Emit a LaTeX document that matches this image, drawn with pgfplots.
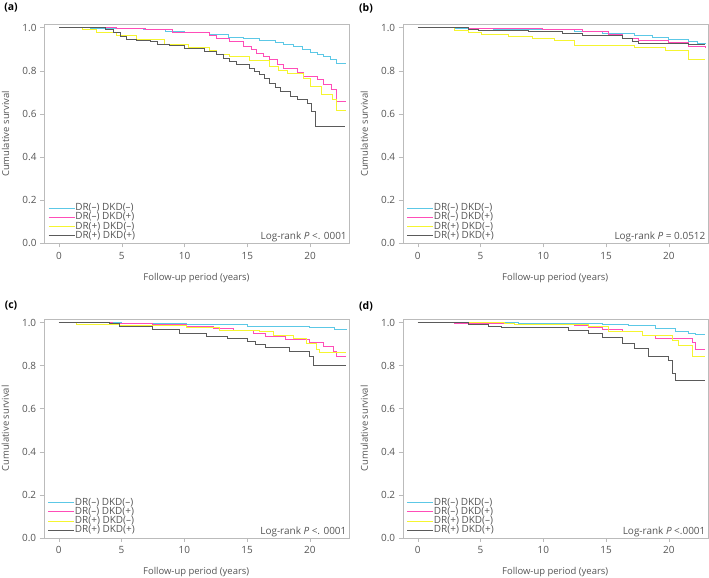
\documentclass[border=0pt]{standalone}
\usepackage{pgfplots}
\pgfplotsset{compat=1.18}
\usepackage{fontspec}
\setmainfont{Open Sans}
\definecolor{cA}{HTML}{5CC8E6}
\definecolor{cB}{HTML}{FF4DB8}
\definecolor{cC}{HTML}{F5F530}
\definecolor{cD}{HTML}{5A5A5A}
\definecolor{txt}{HTML}{555555}
\definecolor{frm}{HTML}{BBBBBB}
\newcommand{\fs}{\fontsize{10}{12}\selectfont}
\newcommand{\fl}{\fontsize{9.5}{11}\selectfont}
\pgfplotsset{km/.style={
 scale only axis, width=305bp,
 xmin=-1.2, xmax=23.1, ymin=0, ymax=1.015,
 xtick={0,5,10,15,20}, ytick={0,0.2,0.4,0.6,0.8,1.0},
 yticklabel style={/pgf/number format/.cd,fixed,fixed zerofill,precision=1},
 xticklabel style={yshift=-1.5bp},
 /pgf/number format/assume math mode=true,
 tick align=outside, tick pos=left, major tick length=4bp,
 axis line style={frm}, tick style={draw=frm},
 tick label style={font=\fs, text=txt},
 label style={font=\fl, text=txt},
 xlabel={Follow-up period (years)}, ylabel={Cumulative survival},
 xlabel style={at={(axis description cs:0.5,-0.158)},anchor=center},
 ylabel style={at={(axis description cs:-0.126,0.5)},anchor=center},
 legend style={at={(axis description cs:0.013,0.012)},anchor=south west,draw=none,fill=none,font=\fs,text=txt,row sep=0pt,inner sep=0pt,
   nodes={text height=7bp, text depth=2.2bp, inner sep=0pt},
   /tikz/every even column/.append style={column sep=4bp}},
 legend cell align=left,
 legend image code/.code={\draw[#1,line width=1.1bp] (0bp,0bp) -- (26bp,0bp);},
 every axis plot/.append style={const plot, line width=0.9bp},
}}
\newcommand{\lr}[1]{\node[anchor=base east,font=\fs,text=txt,inner sep=0pt] at (axis description cs:0.993,0.016) {#1};}
\begin{document}
\begin{tikzpicture}
\path[use as bounding box] (0,0) rectangle (709bp,578bp);
\node[font=\bfseries\fontsize{10.5}{12}\selectfont] at (11bp,570bp) {(a)};
\node[font=\bfseries\fontsize{10.5}{12}\selectfont] at (366bp,570bp) {(b)};
\node[font=\bfseries\fontsize{10.5}{12}\selectfont] at (11bp,272bp) {(c)};
\node[font=\bfseries\fontsize{10.5}{12}\selectfont] at (366bp,272bp) {(d)};
% (a)
\begin{axis}[km, height=219bp, at={(44bp,334.7bp)}, anchor=south west]
\addplot[cA] coordinates {(0,1) (2.5,0.997) (4.5,0.994) (6.7,0.989) (8.5,0.982) (10,0.976) (12,0.966) (13.5,0.955) (14.7,0.948) (16,0.938) (17.2,0.93) (17.9,0.923) (18.7,0.912) (19.4,0.9) (20,0.886) (20.6,0.876) (21.1,0.866) (21.6,0.853) (22.1,0.835) (22.9,0.835)};
\addplot[cB] coordinates {(0,1) (4.6,0.997) (6.9,0.989) (9,0.978) (12,0.963) (12.5,0.951) (13.6,0.935) (14.7,0.912) (15.3,0.897) (15.7,0.881) (16.3,0.867) (16.8,0.85) (17.4,0.83) (17.9,0.812) (19,0.792) (19.5,0.773) (20.6,0.758) (21.1,0.734) (21.7,0.711) (22.1,0.657) (22.9,0.657)};
\addplot[cC] coordinates {(0,1) (1.9,0.992) (3.0,0.977) (4.6,0.961) (6.2,0.943) (8.4,0.923) (10.3,0.907) (12,0.896) (12.5,0.877) (13.6,0.866) (15.2,0.847) (16.8,0.82) (17.5,0.8) (18.2,0.785) (19.5,0.765) (20,0.729) (20.9,0.688) (21.8,0.665) (22.1,0.618) (22.9,0.618)};
\addplot[cD] coordinates {(0,1) (3.7,0.993) (4.3,0.977) (4.9,0.958) (5.4,0.946) (6.2,0.94) (7.3,0.935) (7.8,0.923) (8.8,0.915) (10,0.904) (11.6,0.889) (12.5,0.873) (13.1,0.858) (13.6,0.843) (14.1,0.827) (15.2,0.812) (15.6,0.797) (16,0.781) (16.4,0.762) (16.8,0.742) (17.2,0.722) (17.6,0.703) (18.4,0.68) (19,0.668) (19.8,0.649) (20.1,0.611) (20.4,0.541) (22.8,0.541)};
\legend{DR(–) DKD(–),DR(–) DKD(+),DR(+) DKD(–),DR(+) DKD(+)}
\lr{Log-rank \textit{P} <. 0001}
\end{axis}
% (b)
\begin{axis}[km, height=219bp, at={(402.7bp,334.7bp)}, anchor=south west]
\addplot[cA] coordinates {(0,1) (2.9,0.997) (6,0.993) (9.9,0.989) (12.5,0.982) (14.7,0.974) (17.3,0.961) (18.7,0.953) (20,0.946) (21.6,0.935) (22.3,0.928) (22.9,0.924)};
\addplot[cB] coordinates {(0,1) (4,0.997) (7.7,0.995) (9.9,0.989) (13.1,0.981) (15.2,0.966) (16.3,0.951) (17.6,0.94) (20,0.93) (21.6,0.912) (22.9,0.907)};
\addplot[cC] coordinates {(0,1) (2.9,0.986) (4,0.977) (5.1,0.966) (7.2,0.958) (9.1,0.951) (10.9,0.94) (12.5,0.915) (17.3,0.909) (19.7,0.893) (21.6,0.853) (22.9,0.853)};
\addplot[cD] coordinates {(0,1) (4,0.992) (4.8,0.986) (8.8,0.981) (11.5,0.974) (13.1,0.961) (16.3,0.951) (17.1,0.935) (17.6,0.924) (21.6,0.92) (22.9,0.92)};
\legend{DR(–) DKD(–),DR(–) DKD(+),DR(+) DKD(–),DR(+) DKD(+)}
\lr{Log-rank \textit{P} = 0.0512}
\end{axis}
% (c)
\begin{axis}[km, height=218.4bp, at={(43.7bp,40.3bp)}, anchor=south west]
\addplot[cA] coordinates {(0,1) (5,0.997) (10.2,0.992) (15,0.983) (20,0.977) (22,0.969) (22.9,0.967)};
\addplot[cB] coordinates {(0,1) (4.3,0.997) (7.5,0.991) (10.2,0.983) (12.3,0.972) (13.9,0.961) (15.5,0.949) (16.5,0.937) (18.1,0.921) (20,0.906) (21.1,0.887) (21.9,0.864) (22.1,0.841) (22.9,0.841)};
\addplot[cC] coordinates {(0,1) (1.4,0.991) (4.8,0.985) (10.2,0.975) (12.8,0.964) (16,0.957) (17.1,0.941) (18.7,0.926) (19.7,0.902) (20.5,0.875) (20.8,0.861) (22.9,0.861)};
\addplot[cD] coordinates {(0,1) (4,0.995) (4.8,0.98) (7.5,0.967) (9.6,0.949) (11.8,0.937) (13.4,0.926) (15,0.91) (15.7,0.899) (16.5,0.884) (18.4,0.867) (20,0.841) (20.3,0.802) (22.9,0.802)};
\legend{DR(–) DKD(–),DR(–) DKD(+),DR(+) DKD(–),DR(+) DKD(+)}
\lr{Log-rank \textit{P} <. 0001}
\end{axis}
% (d)
\begin{axis}[km, height=218.4bp, at={(402.7bp,40.3bp)}, anchor=south west]
\addplot[cA] coordinates {(0,1) (8,0.997) (14.7,0.991) (16.8,0.985) (18.9,0.972) (20.5,0.957) (21.6,0.949) (22.1,0.944) (22.9,0.944)};
\addplot[cB] coordinates {(0,1) (2.9,0.995) (7.7,0.991) (12.5,0.988) (13.6,0.977) (14.7,0.967) (16.3,0.957) (17.9,0.941) (18.9,0.926) (21.9,0.906) (22.1,0.875) (22.9,0.875)};
\addplot[cC] coordinates {(0,1) (6.9,0.995) (7.7,0.991) (13.6,0.98) (15.2,0.957) (17.9,0.941) (20.3,0.918) (20.8,0.892) (21.9,0.844) (22.9,0.844)};
\addplot[cD] coordinates {(0,1) (4,0.992) (5.6,0.983) (6.7,0.975) (12,0.964) (13.6,0.949) (14.7,0.929) (16.3,0.902) (17.3,0.879) (18.4,0.841) (20,0.825) (20.3,0.762) (20.5,0.729) (22.9,0.729)};
\legend{DR(–) DKD(–),DR(–) DKD(+),DR(+) DKD(–),DR(+) DKD(+)}
\lr{Log-rank \textit{P} <.0001}
\end{axis}
\end{tikzpicture}
\end{document}
